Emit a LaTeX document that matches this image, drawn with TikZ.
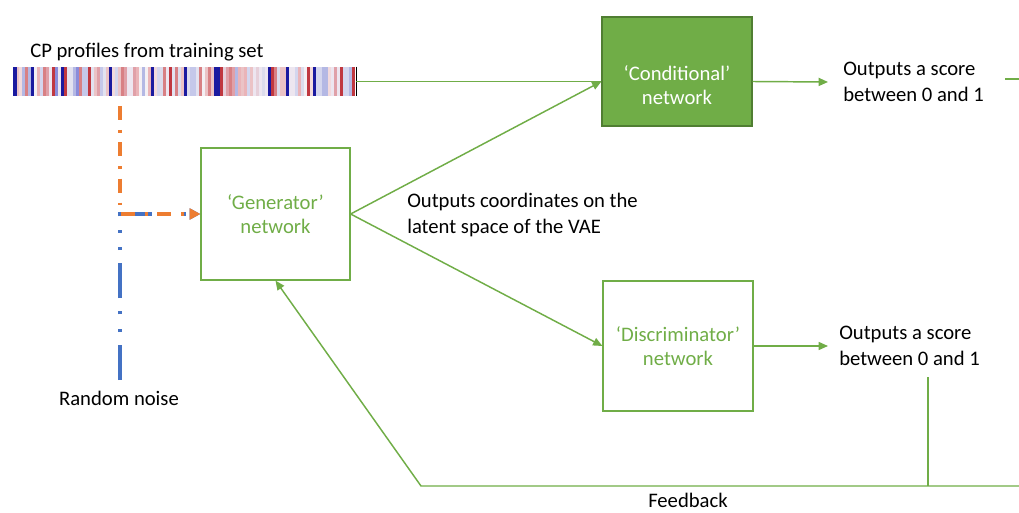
\documentclass[tikz,border=0pt]{standalone}
\usepackage{fontspec}
\setmainfont{Carlito}
\usetikzlibrary{arrows.meta}
\definecolor{gr}{HTML}{70AD47}
\definecolor{grd}{HTML}{507E32}
\definecolor{og}{HTML}{ED7D31}
\definecolor{bl}{HTML}{4472C4}
\definecolor{st0}{HTML}{EDE6F0}
\definecolor{st1}{HTML}{C5C8EA}
\definecolor{st2}{HTML}{EBC3C6}
\definecolor{st3}{HTML}{DCDCEC}
\definecolor{st4}{HTML}{E0A0A8}
\definecolor{st5}{HTML}{D88084}
\definecolor{st6}{HTML}{8A8CDA}
\definecolor{st7}{HTML}{1A1AA0}
\definecolor{st8}{HTML}{F2DADD}
\definecolor{st9}{HTML}{B4B8E4}
\definecolor{st10}{HTML}{C03840}
\definecolor{st11}{HTML}{F4F0F4}
\definecolor{st12}{HTML}{E6D0DA}
\definecolor{st13}{HTML}{D4D6EE}
\definecolor{st14}{HTML}{EAB4B8}
\definecolor{st15}{HTML}{E2E2F0}
\tikzset{
  gline/.style={draw=gr, line width=1.1pt},
  garrow/.style={gline, -{Triangle[length=7pt,width=6pt]}},
  netbox/.style={draw=gr, line width=0.9pt, minimum width=112.5pt, inner sep=0pt},
  lbl/.style={align=left, font=\fontsize{15.5}{20}\selectfont, inner sep=0pt},
  glbl/.style={align=center, text=gr, font=\fontsize{15.5}{18.5}\selectfont, inner sep=0pt},
}
\begin{document}
\begin{tikzpicture}[x=0.75pt,y=-0.75pt]
\useasboundingbox (0,0) rectangle (1019,513);

% barcode
\pgfmathsetseed{42}
\foreach \i in {0,...,112}{
  \pgfmathrandominteger{\c}{0}{15}
  \fill[fill=st\c] ({16+\i*3},67) rectangle ({16+(\i+1)*3+0.3},96);
}
\fill[fill=st7] (13,67) rectangle (17,96);
\node[minimum width=257.25pt, minimum height=21.75pt, inner sep=0pt] (bar) at (184.5,81.5) {};
\draw[black, line width=0.9pt] (bar.north east) -- (bar.south east);
\node[lbl, anchor=west] (cp) at (30,52) {CP profiles from training set};

% boxes
\node[netbox, fill=gr, draw=grd, minimum height=81.75pt] (cond) at (677,71.5) {};
\node[glbl, text=white] (condt) at (677,85) {‘Conditional’\\network};
\node[netbox, minimum width=111.75pt, minimum height=99pt] (gen) at (275.5,214) {};
\node[glbl] (gent) at (275.5,214) {‘Generator’\\network};
\node[netbox, minimum height=97.5pt] (disc) at (678,346) {};
\node[glbl] (disct) at (678,346) {‘Discriminator’\\network};

% text labels
\node[lbl, anchor=west] (out1) at (843,82) {Outputs a score\\between 0 and 1};
\node[lbl, anchor=west] (out2) at (839,346) {Outputs a score\\between 0 and 1};
\node[lbl, anchor=west] (lat) at (407,215) {Outputs coordinates on the\\latent space of the VAE};
\node[lbl] (noise) at (119,398) {Random noise};
\node[lbl] (fb) at (688,500) {Feedback};

% coordinates
\coordinate (condin) at (bar.east -| cond.west);
\coordinate (condout) at (bar.east -| cond.east);
\coordinate (s1) at (828,82);
\coordinate (s2) at (828,346);
\coordinate (fbv) at (928,377);
\coordinate (fbc) at (928,486);
\coordinate (fbr) at (1019,486);
\coordinate (fbl) at (421,486);
\coordinate (stray1) at (1005,79);
\coordinate (stray2) at (1019,79);
\coordinate (ogtop) at (120,106);
\coordinate (bltop) at (120,380);
\coordinate (corner) at (120,214);

% connectors
\draw[gline] (bar.east) -- (condin);
\draw[garrow] (gen.east) -- (condin);
\draw[garrow] (gen.east) -- (disc.west);
\draw[garrow] (condout) -- (s1);
\draw[garrow] (disc.east) -- (s2);
\draw[gline] (stray1) -- (stray2);
\draw[gline] (fbv) -- (fbc);
\draw[garrow] (fbr) -- (fbl) -- (gen.south);

% noise / profile inputs
\draw[bl, line width=3pt, dash pattern=on 26pt off 10pt on 2.2pt off 11pt on 2.2pt off 10pt, -{Triangle[length=8pt,width=8pt]}] (bltop) -- (corner) -- (gen.west);
\draw[og, line width=3pt, dash pattern=on 10.5pt off 7.5pt on 2.2pt off 7pt, -{Triangle[length=8pt,width=8pt]}] (ogtop) -- (corner) -- (gen.west);
\end{tikzpicture}
\end{document}
